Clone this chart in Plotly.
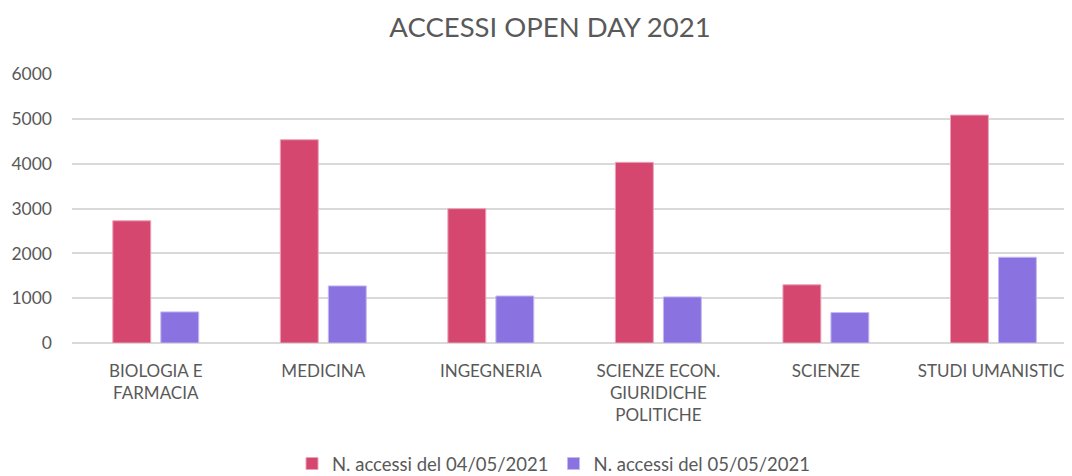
import plotly.graph_objects as go

categories = ["BIOLOGIA E<br>FARMACIA", "MEDICINA", "INGEGNERIA",
              "SCIENZE ECON.<br>GIURIDICHE<br>POLITICHE", "SCIENZE", "STUDI UMANISTICI"]
series1_name = "N. accessi del 04/05/2021"
series2_name = "N. accessi del 05/05/2021"
series1 = [2730, 4540, 3000, 4035, 1300, 5090]
series2 = [695, 1275, 1050, 1030, 680, 1915]
y_ticks = [0, 1000, 2000, 3000, 4000, 5000, 6000]

FONT = "Lato"
GRAY = "#595959"

# page body has an 8px default margin, so the figure is drawn 8px smaller
W, H = 1064, 468

fig = go.Figure()
fig.add_trace(go.Bar(x=categories, y=series1, name=series1_name,
                     marker=dict(color="#D5476F", line=dict(color="#EBA3B8", width=1))))
fig.add_trace(go.Bar(x=categories, y=series2, name=series2_name,
                     marker=dict(color="#8A73E0", line=dict(color="#C5B9F0", width=1))))

fig.update_layout(
    width=W, height=H,
    margin=dict(l=64, r=0, t=66, b=133),
    paper_bgcolor="white", plot_bgcolor="white",
    barmode="group", bargap=0.427, bargroupgap=0.21,
    font=dict(family=FONT, size=17, color=GRAY),
    title=dict(text="ACCESSI OPEN DAY 2021", x=542 / W, xref="container", xanchor="center",
               y=1 - 19 / H, yref="container", yanchor="middle",
               font=dict(family=FONT, size=27.5, color=GRAY)),
    legend=dict(orientation="h", x=546 / W, xref="container", xanchor="center",
                y=12 / H, yref="container", yanchor="middle",
                font=dict(family=FONT, size=18.5, color=GRAY),
                itemwidth=30, tracegroupgap=0),
    xaxis=dict(range=[-0.5, 5.469], showgrid=False, showline=False, zeroline=False,
               tickfont=dict(family=FONT, size=17, color=GRAY), ticks="",
               ticklabelstandoff=16),
    yaxis=dict(range=[0, 6008], tickvals=y_ticks, showgrid=True, gridcolor="#D9D9D9",
               gridwidth=1.5, zeroline=True, zerolinecolor="#D9D9D9", zerolinewidth=1.5,
               showline=False, tickfont=dict(family=FONT, size=17.5, color=GRAY),
               ticklabelstandoff=19),
)

fig.write_html("out.html")
